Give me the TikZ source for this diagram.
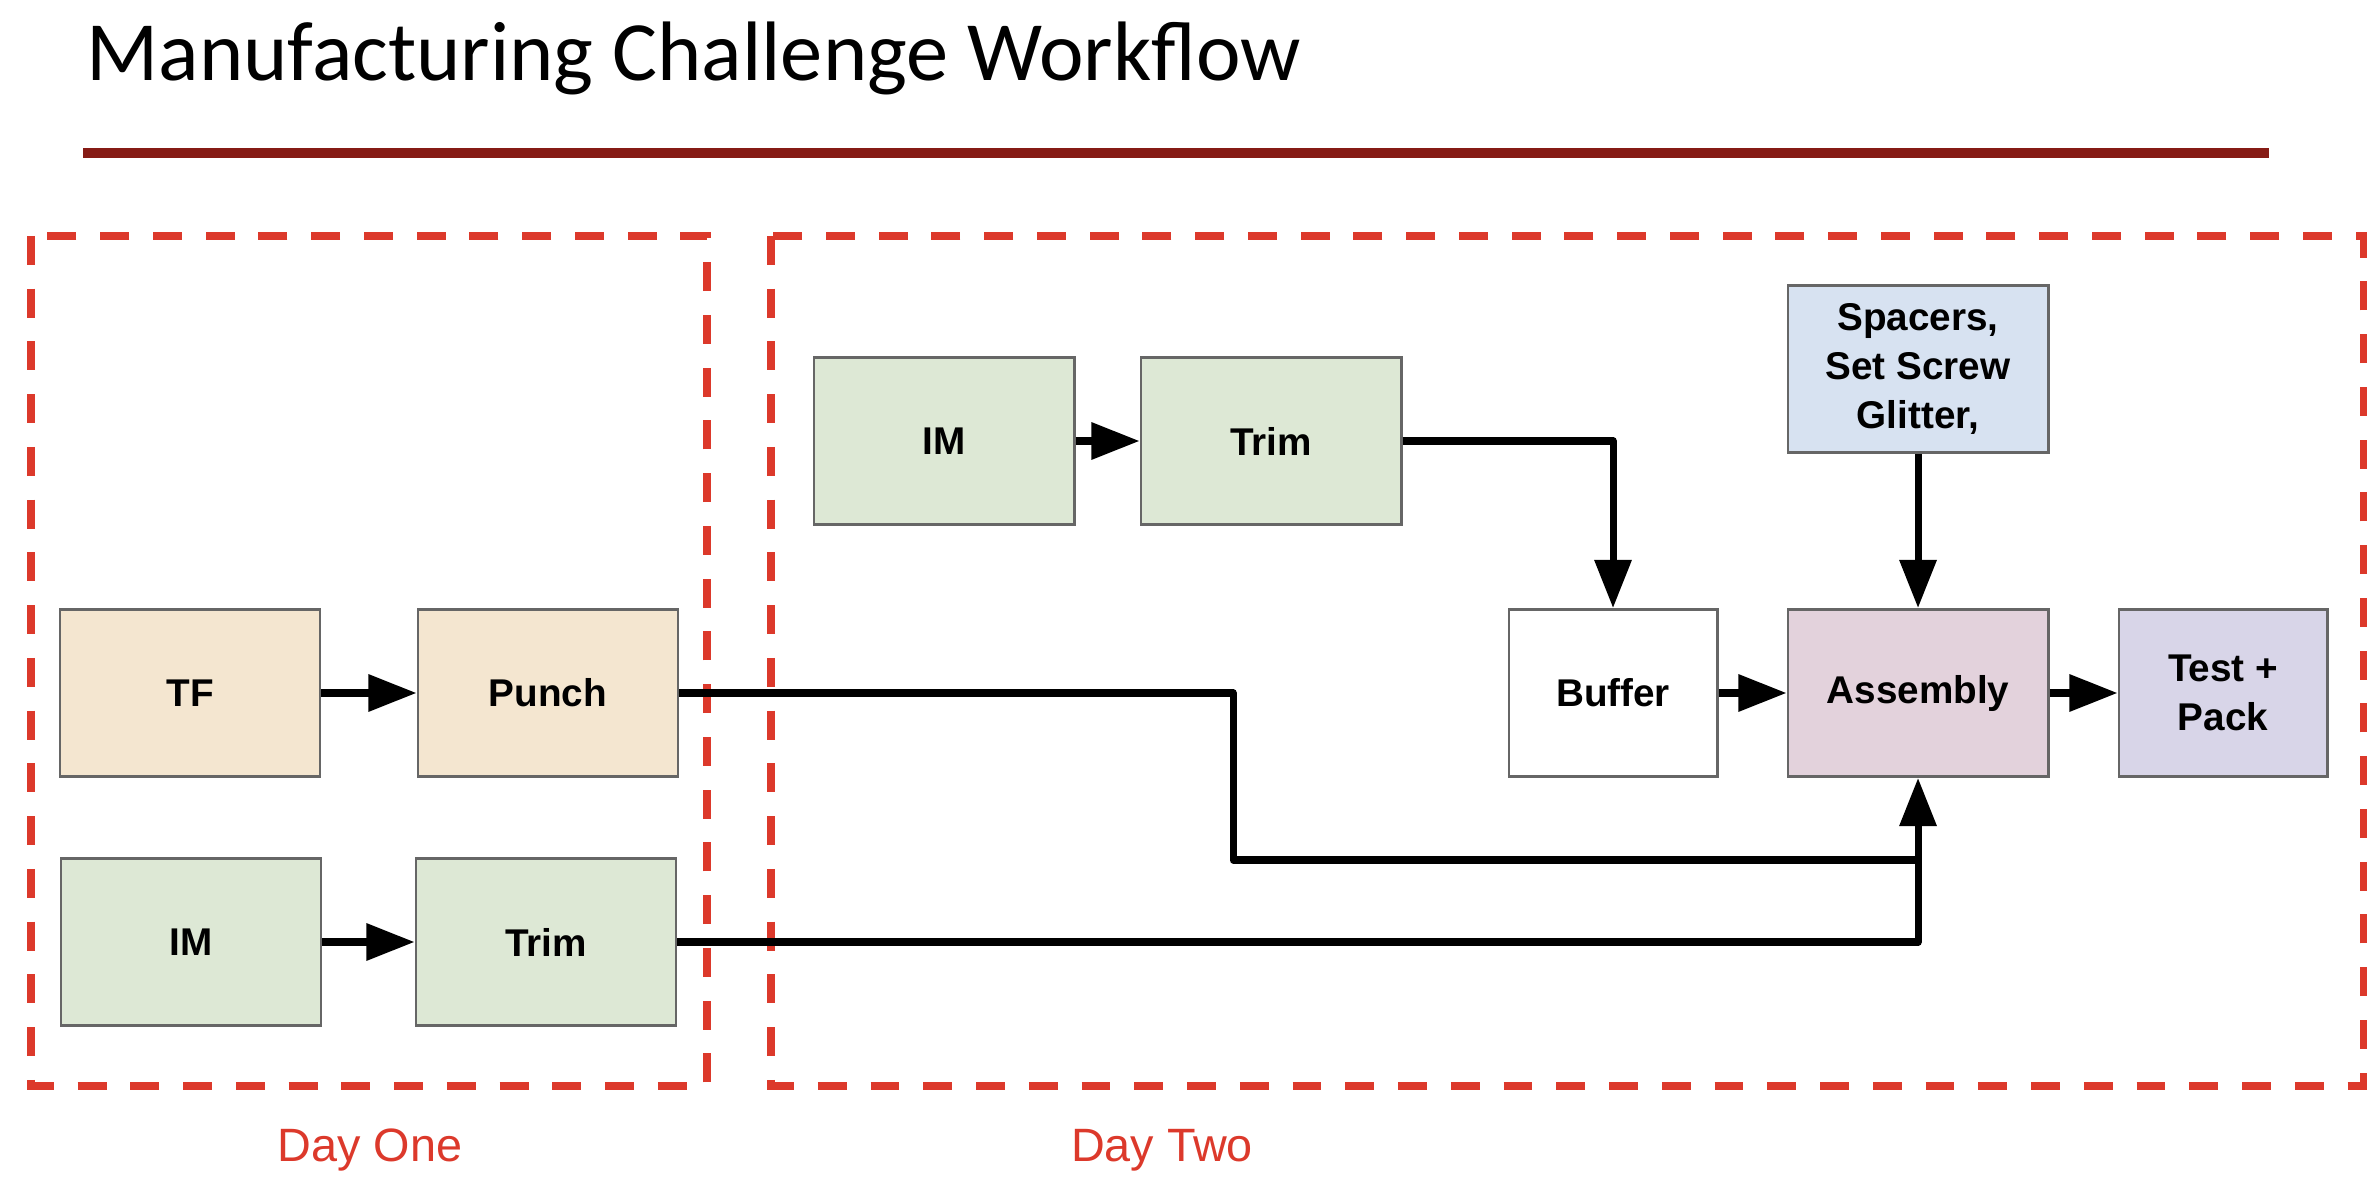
\documentclass[tikz,border=0pt]{standalone}
\usepackage{fontspec}
\setmainfont{Liberation Sans}
\newfontfamily\titlefont{Carlito}
\usepackage{tikz}
\usetikzlibrary{arrows.meta}

\definecolor{framered}{RGB}{220,57,43}
\definecolor{rulered}{RGB}{134,27,21}
\definecolor{boxgray}{RGB}{102,102,102}
\definecolor{tanfill}{RGB}{244,230,208}
\definecolor{greenfill}{RGB}{221,232,213}
\definecolor{bluefill}{RGB}{215,226,241}
\definecolor{pinkfill}{RGB}{227,210,220}
\definecolor{lilacfill}{RGB}{216,213,232}

\begin{document}
\begin{tikzpicture}[x=0.01cm, y=-0.01cm, stage/.style = {shape=rectangle, draw=boxgray, line width=0.8pt, minimum width=2.6cm, minimum height=1.67cm, inner sep=0pt, align=center, font=\bfseries\fontsize{11}{13.8}\selectfont}, narrow/.style = {stage, minimum width=2.08cm}, flow/.style = {line width=2pt, line join=round, -{Triangle[length=13.7pt,width=10.2pt]}}, link/.style = {line width=2pt, line join=round}, dayframe/.style = {draw=framered, line width=2pt, dash pattern=on 8.2pt off 6.8pt}, daylabel/.style = {anchor=base, inner sep=0pt, text=framered, font=\fontsize{13.3}{16}\selectfont}]
\useasboundingbox (0,0) rectangle (2380,1195);

% heading
\node[anchor=base west, inner sep=0pt] (title) at (86,81) {\titlefont\fontsize{24}{29}\selectfont Manufacturing Challenge Workflow};
\draw[rulered, line width=2.85pt] (83,153) -- (2269,153);

% the two days
\draw[dayframe] (31,236) rectangle (707,1086);
\draw[dayframe] (771,236) rectangle (2363,1086);
\node[daylabel] (dayone) at (370,1161) {Day One};
\node[daylabel] (daytwo) at (1162,1161) {Day Two};

% day one
\node[stage, fill=tanfill] (tf) at (190,693) {TF};
\node[stage, fill=tanfill] (punch) at (548,693) {Punch};
\node[stage, fill=greenfill] (imone) at (191,942) {IM};
\node[stage, fill=greenfill] (trimone) at (546,942) {Trim};

% day two
\node[stage, fill=greenfill] (imtwo) at (944,441) {IM};
\node[stage, fill=greenfill] (trimtwo) at (1271,441) {Trim};
\node[narrow, fill=white] (buffer) at (1613,693) {Buffer};
\node[stage, fill=bluefill] (spacers) at (1918,369) {Spacers,\\Set Screw\\Glitter,};
\node[stage, fill=pinkfill] (assembly) at (1918,693) {Assembly};
\node[narrow, fill=lilacfill] (test) at (2223,693) {Test +\\Pack};
\coordinate (bend) at (1233,860);

\draw[flow] (tf) -- (punch);
\draw[flow] (imone) -- (trimone);
\draw[flow] (imtwo) -- (trimtwo);
\draw[flow] (trimtwo.east) -| (buffer.north);
\draw[flow] (spacers) -- (assembly);
\draw[flow] (buffer) -- (assembly);
\draw[flow] (assembly) -- (test);
\draw[flow] (trimone.east) -| (assembly.south);
\draw[link] (punch.east) -| (bend) -- (bend -| assembly.south);
\end{tikzpicture}
\end{document}
